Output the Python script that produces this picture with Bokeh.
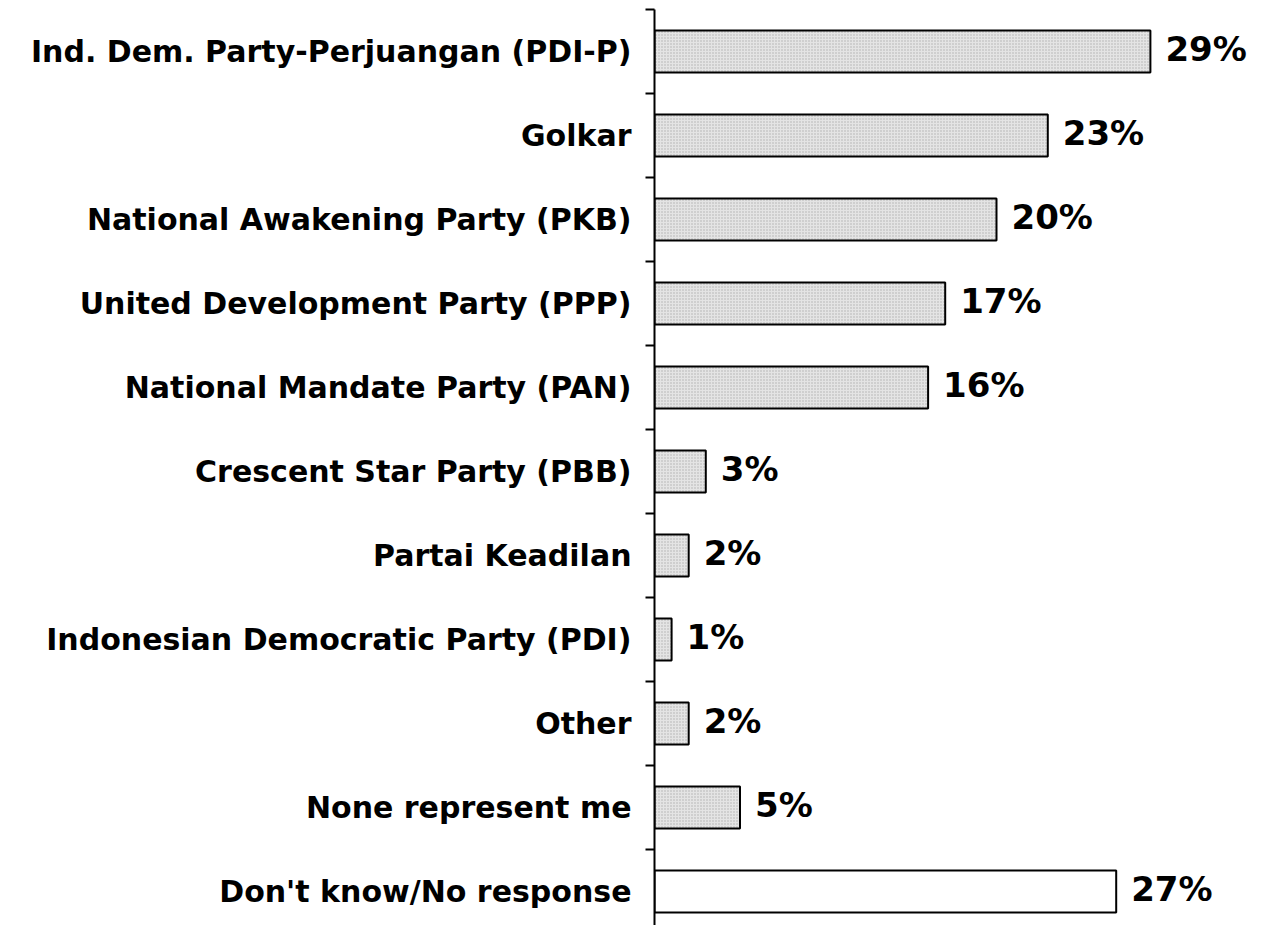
from bokeh.plotting import figure
from bokeh.models import ColumnDataSource, Range1d, FixedTicker
from bokeh.core.properties import value
from bokeh.embed import file_html
from bokeh.resources import INLINE

categories = [
    "Ind. Dem. Party-Perjuangan (PDI-P)",
    "Golkar",
    "National Awakening Party (PKB)",
    "United Development Party (PPP)",
    "National Mandate Party (PAN)",
    "Crescent Star Party (PBB)",
    "Partai Keadilan",
    "Indonesian Democratic Party (PDI)",
    "Other",
    "None represent me",
    "Don't know/No response",
]
values = [29, 23, 20, 17, 16, 3, 2, 1, 2, 5, 27]
labels = [f"{v}%" for v in values]

n = len(categories)
centers = [i + 0.5 for i in range(n)]
fills = ["#e4e4e4"] * (n - 1) + ["#ffffff"]
hatches = ["dot"] * (n - 1) + [" "]

src = ColumnDataSource(dict(y=centers, v=values, lab=labels, fill=fills, hatch=hatches))

FONT = "DejaVu Sans"
H = 925
TOP = 9
frame_h = H - TOP

p = figure(width=1253, height=H, output_backend="svg", toolbar_location=None,
           x_range=Range1d(0, (1253 - 654) / 17.1), y_range=Range1d(frame_h / 84, 0),
           min_border_left=654, min_border_top=TOP, min_border_bottom=0, min_border_right=0,
           x_axis_location=None)
p.outline_line_color = None
p.xgrid.visible = False
p.ygrid.visible = False

p.hbar(y="y", right="v", left=0, height=0.5, source=src,
       fill_color="fill", line_color="black", line_width=2,
       hatch_pattern="hatch", hatch_color="#8c8c8c", hatch_scale=3, hatch_weight=1, hatch_alpha=0.6)

p.text(x="v", y="y", text="lab", source=src, x_offset=15, y_offset=-3,
       text_font=value(FONT), text_font_style="bold", text_font_size="34px",
       text_baseline="middle", text_align="left", text_color="black")

ax = p.yaxis[0]
ax.ticker = FixedTicker(ticks=centers, minor_ticks=list(range(n + 1)))
ax.major_label_overrides = {c: t for c, t in zip(centers, categories)}
ax.major_tick_line_color = None
ax.major_tick_out = 0
ax.major_tick_in = 0
ax.minor_tick_out = 9
ax.minor_tick_in = 0
ax.minor_tick_line_width = 2
ax.minor_tick_line_color = "black"
ax.axis_line_width = 2
ax.axis_line_color = "black"
ax.major_label_standoff = 14
ax.major_label_text_font = FONT
ax.major_label_text_font_style = "bold"
ax.major_label_text_font_size = "30px"
ax.major_label_text_color = "black"

open("out.html", "w").write(file_html(p, INLINE))
